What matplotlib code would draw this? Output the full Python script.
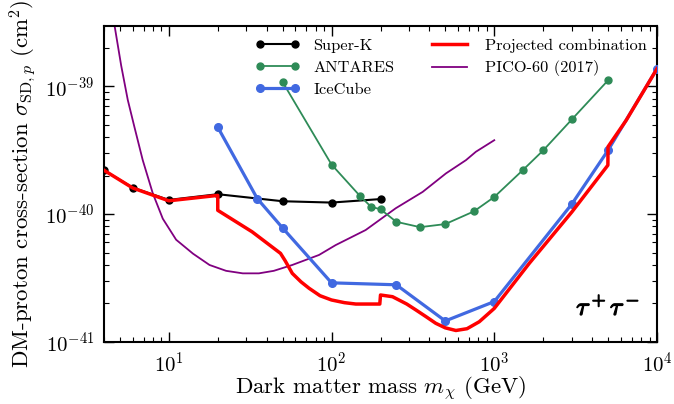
import numpy as np
import matplotlib
matplotlib.use('Agg')
import matplotlib.pyplot as plt
import matplotlib.patheffects as pe
from matplotlib.ticker import NullFormatter

plt.rcParams['font.family'] = 'serif'
plt.rcParams['font.serif'] = ['cmr10', 'DejaVu Serif']
plt.rcParams['mathtext.fontset'] = 'cm'
plt.rcParams['axes.formatter.use_mathtext'] = True
plt.rcParams['axes.unicode_minus'] = False

# Super-K
sk_m = [4, 6, 10, 20, 50, 100, 200]
sk_s = [2.2e-40, 1.61e-40, 1.29e-40, 1.43e-40, 1.26e-40, 1.23e-40, 1.31e-40]

# ANTARES
an_m = [50, 100, 150, 175, 200, 250, 350, 500, 750, 1000, 1500, 2000, 3000, 5000]
an_s = [1.08e-39, 2.44e-40, 1.38e-40, 1.14e-40, 1.09e-40, 8.7e-41, 7.9e-41,
        8.35e-41, 1.05e-40, 1.36e-40, 2.21e-40, 3.15e-40, 5.5e-40, 1.11e-39]

# IceCube
ic_m = [20, 35, 50, 100, 250, 500, 1000, 3000, 5000, 10000]
ic_s = [4.78e-40, 1.32e-40, 7.8e-41, 2.9e-41, 2.8e-41, 1.46e-41, 2.07e-41,
        1.2e-40, 3.15e-40, 1.37e-39]

# Projected combination
pc_m = [4, 6, 10, 20, 20, 32.5, 48.6, 52, 57.4, 65, 72.8, 85, 100, 120, 141, 198,
        200, 237, 290, 330, 380, 437, 500, 581, 680, 809, 1000, 1641, 3000, 4990,
        5000, 6460, 10000]
pc_s = [2.2e-40, 1.6e-40, 1.27e-40, 1.4e-40, 1.07e-40, 7.27e-41, 4.93e-41, 4.3e-41,
        3.44e-41, 2.95e-41, 2.63e-41, 2.3e-41, 2.13e-41, 2.03e-41, 1.98e-41,
        1.98e-41, 2.33e-41, 2.26e-41, 1.98e-41, 1.78e-41, 1.58e-41, 1.40e-41,
        1.29e-41, 1.23e-41, 1.27e-41, 1.44e-41, 1.83e-41, 4.12e-41, 1.04e-40,
        2.41e-40, 3.36e-40, 5.4e-40, 1.37e-39]

# PICO-60 (2017)
pico_m = [4.6, 5.1, 5.6, 6.15, 6.92, 7.98, 9.19, 11.1, 14.1, 17.8, 22.5, 28.5, 35.8,
          44.2, 57.4, 83.8, 106, 162, 248, 363, 505, 670, 771, 1000]
pico_s = [3.2e-39, 1.45e-39, 7.8e-40, 4.8e-40, 2.64e-40, 1.45e-40, 9.2e-41,
          6.3e-41, 4.9e-41, 4.0e-41, 3.6e-41, 3.44e-41, 3.44e-41, 3.6e-41,
          4.0e-41, 4.79e-41, 5.72e-41, 7.5e-41, 1.11e-40, 1.49e-40, 2.08e-40,
          2.64e-40, 3.07e-40, 3.78e-40]

fig = plt.figure(figsize=(6.74, 4.04), dpi=100)
ax = fig.add_axes([0.1543, 0.1535, 0.8205, 0.782])

ax.plot(sk_m, sk_s, '-o', color='black', lw=1.5, ms=5, label='Super-K', zorder=3)
ax.plot(an_m, an_s, '-o', color='#2e8b57', lw=1.3, ms=5, label='ANTARES', zorder=3)
ax.plot(ic_m, ic_s, '-o', color='#4169e1', lw=2.3, ms=5.5, label='IceCube', zorder=3)
ax.plot(pc_m, pc_s, '-', color='red', lw=2.5, label='Projected combination', zorder=4)
ax.plot(pico_m, pico_s, '-', color='purple', lw=1.3, label='PICO-60 (2017)', zorder=2)

ax.set_xscale('log')
ax.set_yscale('log')
ax.set_xlim(4, 1e4)
ax.set_ylim(1e-41, 2.95e-39)
ax.xaxis.set_minor_formatter(NullFormatter())
ax.yaxis.set_minor_formatter(NullFormatter())

ax.tick_params(which='both', direction='in', top=True, right=True)
ax.tick_params(which='major', length=7, width=1.0, labelsize=15, pad=7)
ax.tick_params(which='minor', length=3.5, width=0.8)
for sp in ax.spines.values():
    sp.set_linewidth(1.5)

ax.set_xlabel(r'Dark matter mass $m_\chi$ (GeV)', fontsize=16.5, labelpad=-1)
ax.set_ylabel(r'DM-proton cross-section $\sigma_{\mathrm{SD},p}$ (cm$^2$)',
              fontsize=16.5, labelpad=5)

tt = ax.text(0.969, 0.07, r'$\boldsymbol{\tau^+\tau^-}$', transform=ax.transAxes,
             fontsize=18, ha='right', va='bottom')
tt.set_path_effects([pe.withStroke(linewidth=1.0, foreground='black')])

ax.legend(loc='upper left', ncol=2, frameon=False, fontsize=11.8, numpoints=2,
          handlelength=2.75, handletextpad=0.8, columnspacing=2.0,
          labelspacing=0.48, borderpad=0, borderaxespad=0,
          bbox_to_anchor=(0.273, 0.962))

fig.savefig('out.png', dpi=100)
